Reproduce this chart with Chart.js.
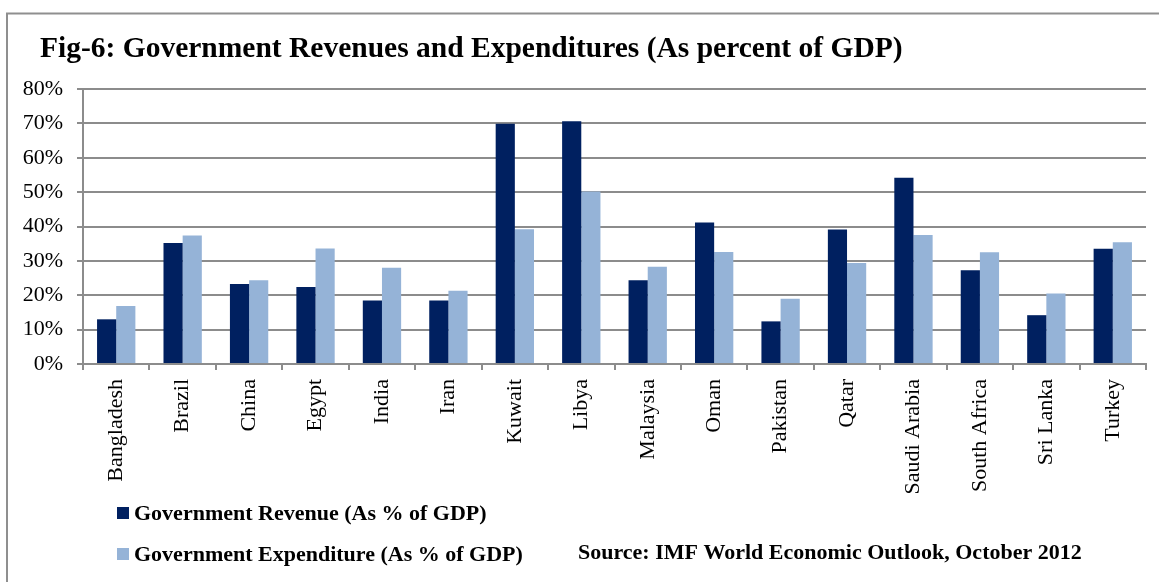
<!DOCTYPE html>
<html>
<head>
<meta charset="utf-8">
<script src="https://cdn.jsdelivr.net/npm/chart.js@4.4.0/dist/chart.umd.min.js"></script>
<style>
  html, body { margin: 0; padding: 0; background: #fff; }
  #wrap { position: relative; width: 1159px; height: 582px; }
</style>
</head>
<body>
<div id="wrap"><canvas id="c" width="1159" height="582"></canvas></div>
<script>
// Government revenue and expenditure, % of GDP (IMF WEO, October 2012)
const countries = ['Bangladesh', 'Brazil', 'China', 'Egypt', 'India', 'Iran', 'Kuwait', 'Libya',
  'Malaysia', 'Oman', 'Pakistan', 'Qatar', 'Saudi Arabia', 'South Africa', 'Sri Lanka', 'Turkey'];
const revenue = [13.0, 35.2, 23.3, 22.4, 18.5, 18.5, 69.9, 70.6, 24.4, 41.2, 12.4, 39.1, 54.2, 27.3, 14.2, 33.5];
const expenditure = [16.9, 37.4, 24.4, 33.6, 28.0, 21.3, 39.2, 50.2, 28.3, 32.6, 19.0, 29.4, 37.5, 32.5, 20.5, 35.4];
const yTickValues = [0, 10, 20, 30, 40, 50, 60, 70, 80];

const titleText = 'Fig-6: Government Revenues and Expenditures (As percent of GDP)';
const sourceText = 'Source: IMF World Economic Outlook, October 2012';
const seriesNames = ['Government Revenue (As % of GDP)', 'Government Expenditure (As % of GDP)'];
const seriesColors = ['#002060', '#95b3d7'];

const axisGray = '#8c8c8c';
const serif = '"Liberation Serif", "Times New Roman", serif';

// Frame, title, legend and source note drawn around the plot
const decorations = {
  id: 'decorations',
  beforeDraw(chart) {
    const ctx = chart.ctx;
    ctx.save();
    ctx.fillStyle = '#fff';
    ctx.fillRect(0, 0, chart.width, chart.height);
    ctx.strokeStyle = '#8f8f8f';
    ctx.lineWidth = 2;
    ctx.beginPath();
    ctx.moveTo(7, chart.height);
    ctx.lineTo(7, 13.5);
    ctx.lineTo(chart.width, 13.5);
    ctx.stroke();
    ctx.restore();
  },
  afterDraw(chart) {
    const ctx = chart.ctx;
    ctx.save();
    ctx.fillStyle = '#000';
    ctx.textBaseline = 'alphabetic';
    ctx.font = 'bold 29.5px ' + serif;
    ctx.fillText(titleText, 40, 57);

    ctx.font = 'bold 22px ' + serif;
    ctx.textBaseline = 'middle';
    const rows = [513, 554];
    chart.data.datasets.forEach((ds, i) => {
      ctx.fillStyle = ds.backgroundColor;
      ctx.fillRect(117, rows[i] - 6, 12, 12);
      ctx.fillStyle = '#000';
      ctx.fillText(ds.label, 134, rows[i] + 1);
    });
    ctx.fillText(sourceText, 578, rows[1] - 1);
    ctx.restore();
  }
};

new Chart(document.getElementById('c'), {
  type: 'bar',
  data: {
    labels: countries,
    datasets: [
      { label: seriesNames[0], data: revenue, backgroundColor: seriesColors[0], borderWidth: 0 },
      { label: seriesNames[1], data: expenditure, backgroundColor: seriesColors[1], borderWidth: 0 }
    ]
  },
  options: {
    responsive: false,
    animation: false,
    devicePixelRatio: 1,
    layout: { padding: { left: 0, right: 13, top: 89, bottom: 0 } },
    datasets: { bar: { categoryPercentage: 0.577, barPercentage: 1.0 } },
    plugins: {
      legend: { display: false },
      title: { display: false },
      tooltip: { enabled: false }
    },
    scales: {
      x: {
        grid: { drawOnChartArea: false, drawTicks: true, tickLength: 6, color: axisGray, lineWidth: 2, offset: true },
        border: { display: true, color: axisGray, width: 2 },
        ticks: {
          autoSkip: false, minRotation: 90, maxRotation: 90, padding: 9,
          color: '#000', font: { family: serif, size: 22 }
        },
        afterFit(scale) { scale.height = 218; }
      },
      y: {
        min: 0, max: 80,
        afterBuildTicks(scale) { scale.ticks = yTickValues.map(v => ({ value: v })); },
        grid: { color: axisGray, lineWidth: 2, tickLength: 6, drawTicks: true },
        border: { display: true, color: axisGray, width: 2 },
        ticks: {
          padding: 14, color: '#000', font: { family: serif, size: 22 },
          callback: v => v + '%'
        },
        afterFit(scale) { scale.width = 83; }
      }
    }
  },
  plugins: [decorations]
});
</script>
</body>
</html>
